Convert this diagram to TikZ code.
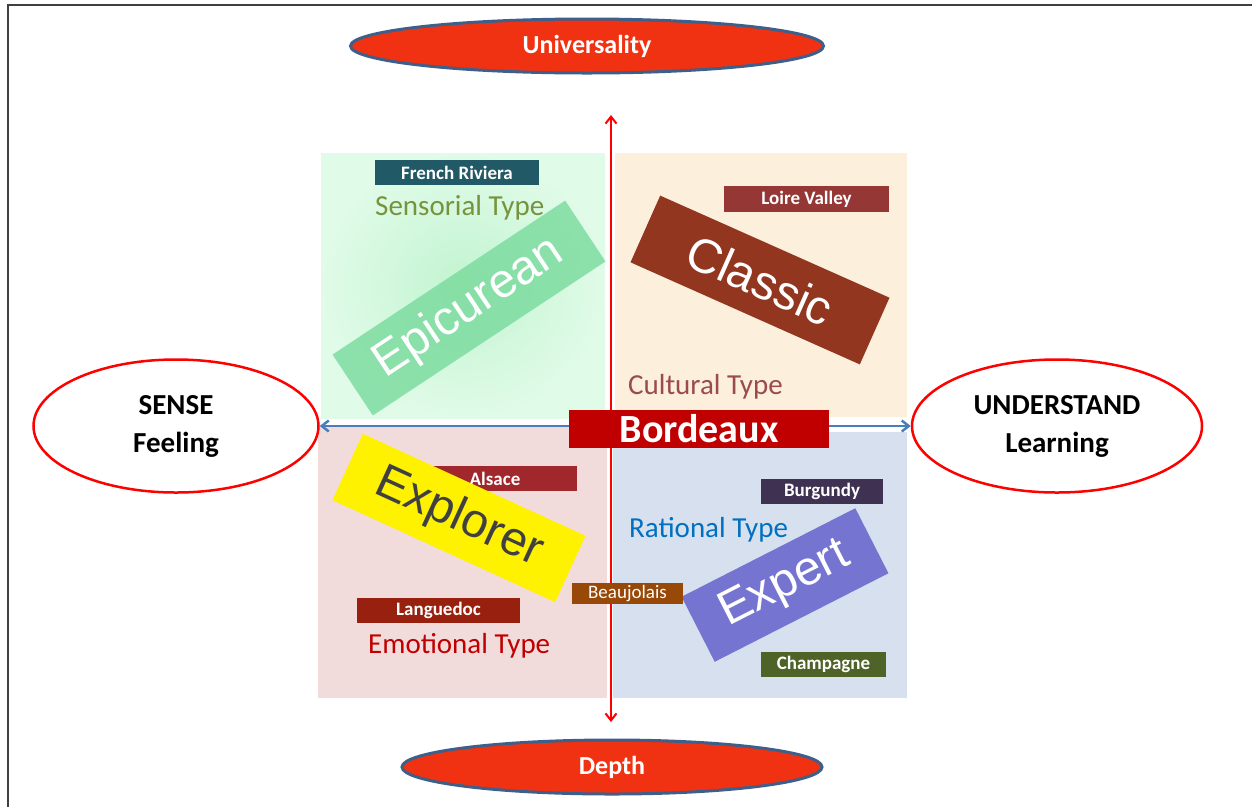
\documentclass[tikz,border=0pt]{standalone}
\usepackage{fontspec}
\setmainfont{Carlito}
\newfontfamily\arialfont{Liberation Sans}
\usetikzlibrary{positioning}
\usetikzlibrary{shapes.geometric}
\usetikzlibrary{arrows.meta}

\definecolor{axisred}{RGB}{240,50,18}
\definecolor{axisedge}{RGB}{62,95,138}
\definecolor{arrowblue}{RGB}{74,126,187}
\definecolor{quadgreen}{RGB}{224,251,232}
\definecolor{quadgreenin}{RGB}{194,244,208}
\definecolor{quadbeige}{RGB}{252,239,220}
\definecolor{quadpink}{RGB}{242,220,219}
\definecolor{quadblue}{RGB}{214,224,238}
\definecolor{epigreen}{RGB}{120,218,156}
\definecolor{classicbrown}{RGB}{146,54,31}
\definecolor{expertblue}{RGB}{117,117,209}
\definecolor{explorertext}{RGB}{64,64,64}
\definecolor{rivieracol}{RGB}{33,89,103}
\definecolor{loirecol}{RGB}{149,55,53}
\definecolor{alsacecol}{RGB}{160,40,44}
\definecolor{languedoccol}{RGB}{152,32,14}
\definecolor{beaujolaiscol}{RGB}{152,72,7}
\definecolor{burgundycol}{RGB}{63,49,81}
\definecolor{champagnecol}{RGB}{79,98,40}
\definecolor{bordeauxcol}{RGB}{192,0,0}
\definecolor{sensorialcol}{RGB}{119,147,60}
\definecolor{culturalcol}{RGB}{155,75,75}
\definecolor{rationalcol}{RGB}{0,112,192}
\definecolor{emotionalcol}{RGB}{192,0,0}

\begin{document}
\begin{tikzpicture}[x=1pt, y=-1pt,
    axisnode/.style={ellipse, draw=axisedge, line width=3pt, fill=axisred, text=white, inner sep=0pt,
        font=\fontsize{26}{30}\bfseries\selectfont},
    pole/.style={ellipse, draw=red, line width=2.5pt, fill=white, align=center, inner sep=0pt,
        minimum height=133pt, font=\fontsize{29}{38}\bfseries\selectfont},
    region/.style={text=white, inner sep=0pt, minimum height=25pt, font=\fontsize{19}{22}\bfseries\selectfont},
    typename/.style={anchor=base west, inner sep=0pt, font=\fontsize{29}{34}\selectfont},
    persona/.style={inner sep=0pt, minimum height=73pt, font=\arialfont\fontsize{48}{56}\selectfont},
    barbs/.style={{Straight Barb[length=7pt,width=11pt]}-{Straight Barb[length=7pt,width=11pt]}}]

    \useasboundingbox (0,0) rectangle (1252,807);
    \draw[line width=2.5pt, black!75] (1252,5) -- (8,5) -- (8,807);

    \shade[inner color=quadgreenin, outer color=quadgreen] (321,153) rectangle (605,418);
    \fill[quadbeige] (615,153) rectangle (907,417);
    \fill[quadpink] (318,427) rectangle (607,698);
    \fill[quadblue] (613,432) rectangle (907,698);

    \node[axisnode, minimum width=473pt, minimum height=54pt] (univ) at (587,46) {Universality};
    \node[axisnode, minimum width=420pt, minimum height=54pt] (depth) at (612,767) {Depth};
    \node[pole, minimum width=285pt] (sense) at (176,426) {SENSE\\Feeling};
    \node[pole, minimum width=290pt] (understand) at (1057,426) {UNDERSTAND\\Learning};

    \coordinate (up) at (611,115);
    \coordinate (down) at (611,722);
    \draw[barbs, red, line width=2pt] (up) -- (down);
    \draw[barbs, arrowblue, line width=2.5pt] (sense.east) -- (understand.west);

    \node[typename, text=sensorialcol] (sensorial) at (375,215) {Sensorial Type};
    \node[typename, text=culturalcol] (cultural) at (628,394) {Cultural Type};
    \node[typename, text=rationalcol] (rational) at (629,537) {Rational Type};
    \node[typename, text=emotionalcol] (emotional) at (368,653) {Emotional Type};

    \node[region, fill=alsacecol, minimum width=164pt] (alsace) at (495,478.5) {Alsace};

    \node[persona, rotate=33.5, minimum width=279pt, fill=epigreen, fill opacity=0.8, text opacity=1, text=white]
        (epicurean) at (469,308) {Epicurean};
    \node[persona, rotate=-24, minimum width=251pt, fill=classicbrown, text=white]
        (classic) at (760,280) {Classic};
    \node[persona, rotate=-24.6, minimum width=245pt, fill=yellow, text=explorertext]
        (explorer) at (459,518) {Explorer};
    \node[persona, rotate=27, minimum width=195pt, fill=expertblue, text=white]
        (expert) at (785,585) {Expert};

    \node[region, fill=rivieracol, minimum width=164pt] (riviera) at (457,172.5) {French Riviera};
    \node[region, fill=loirecol, minimum width=165pt, minimum height=26pt] (loire) at (806.5,199) {Loire Valley};
    \node[region, fill=languedoccol, minimum width=163pt] (languedoc) at (438.5,610.5) {Languedoc};
    \node[region, fill=beaujolaiscol, minimum width=111pt, minimum height=21pt, font=\fontsize{19}{22}\selectfont]
        (beaujolais) at (627.5,593.5) {Beaujolais};
    \node[region, fill=burgundycol, minimum width=122pt] (burgundy) at (822,491.5) {Burgundy};
    \node[region, fill=champagnecol, minimum width=125pt] (champagne) at (823.5,664.5) {Champagne};

    \node[fill=bordeauxcol, text=white, inner sep=0pt, minimum width=260pt, minimum height=38pt,
        font=\fontsize{40}{44}\bfseries\selectfont] (bordeaux) at (699,429) {Bordeaux};
\end{tikzpicture}
\end{document}
